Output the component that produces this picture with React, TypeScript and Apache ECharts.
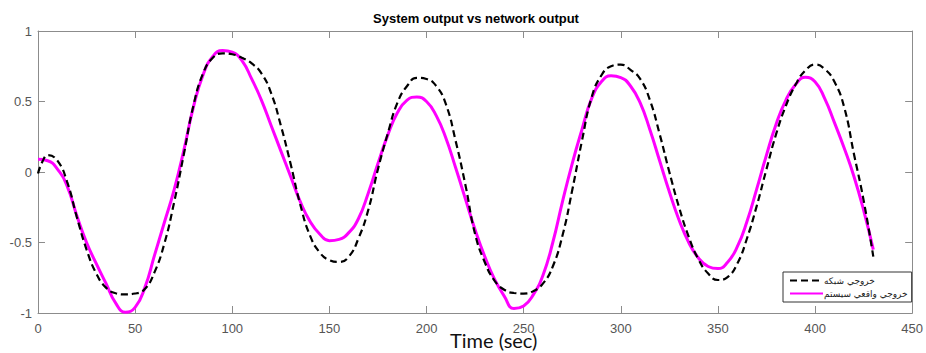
import { useEffect, useRef } from "react";
import * as echarts from "echarts";

// Real system response (solid magenta), sampled every 5 s
const sysTime = [
  0, 5, 10, 15, 20, 25, 30, 35, 40, 45, 50, 55, 60, 65, 70, 75, 80, 85, 90, 95,
  100, 105, 110, 115, 120, 125, 130, 135, 140, 145, 150, 155, 160, 165, 170, 175,
  180, 185, 190, 195, 200, 205, 210, 215, 220, 225, 230, 235, 240, 245, 250, 255,
  260, 265, 270, 275, 280, 285, 290, 295, 300, 305, 310, 315, 320, 325, 330, 335,
  340, 345, 350, 355, 360, 365, 370, 375, 380, 385, 390, 395, 400, 405, 410, 415,
  420, 425, 430,
];
const sysOutput = [
  0.09, 0.08, 0.02, -0.1, -0.31, -0.5, -0.65, -0.79, -0.93, -0.995, -0.96, -0.82,
  -0.59, -0.36, -0.13, 0.15, 0.46, 0.69, 0.82, 0.862, 0.85, 0.79, 0.66, 0.51,
  0.33, 0.15, -0.03, -0.21, -0.35, -0.44, -0.487, -0.478, -0.43, -0.33, -0.15,
  0.06, 0.26, 0.42, 0.51, 0.532, 0.5, 0.4, 0.24, 0.03, -0.19, -0.41, -0.6, -0.76,
  -0.88, -0.968, -0.95, -0.87, -0.73, -0.5, -0.21, 0.06, 0.3, 0.52, 0.64, 0.682,
  0.67, 0.61, 0.49, 0.3, 0.08, -0.14, -0.34, -0.5, -0.61, -0.67, -0.685, -0.64,
  -0.53, -0.35, -0.12, 0.12, 0.34, 0.51, 0.62, 0.672, 0.64, 0.52, 0.35, 0.17,
  -0.03, -0.27, -0.55,
];

// Network prediction (dashed black)
const netTime = [
  0, 2.5, 5, 10, 15, 20, 25, 30, 35, 40, 45, 50, 55, 60, 65, 70, 75, 80, 85, 90,
  95, 100, 105, 110, 115, 120, 125, 130, 135, 140, 145, 150, 155, 160, 165, 170,
  175, 180, 185, 190, 195, 200, 205, 210, 215, 220, 225, 230, 235, 240, 245, 250,
  255, 260, 265, 270, 275, 280, 285, 290, 295, 300, 305, 310, 315, 320, 325, 330,
  335, 340, 345, 350, 355, 360, 365, 370, 375, 380, 385, 390, 395, 400, 405, 410,
  415, 420, 425, 430,
];
const netOutput = [
  -0.01, 0.08, 0.12, 0.08, -0.07, -0.32, -0.55, -0.72, -0.82, -0.86, -0.868,
  -0.862, -0.83, -0.71, -0.51, -0.22, 0.12, 0.47, 0.7, 0.81, 0.842, 0.835, 0.81,
  0.77, 0.7, 0.56, 0.33, 0.06, -0.23, -0.45, -0.57, -0.625, -0.638, -0.6, -0.47,
  -0.27, 0.02, 0.27, 0.49, 0.61, 0.668, 0.66, 0.61, 0.48, 0.22, -0.09, -0.44,
  -0.64, -0.77, -0.835, -0.858, -0.862, -0.845, -0.79, -0.67, -0.45, -0.13, 0.22,
  0.53, 0.685, 0.75, 0.762, 0.725, 0.66, 0.51, 0.27, 0.0, -0.25, -0.46, -0.62,
  -0.72, -0.766, -0.745, -0.65, -0.47, -0.24, 0.02, 0.27, 0.47, 0.62, 0.72, 0.762,
  0.73, 0.64, 0.46, 0.13, -0.2, -0.6,
];

const seriesNames = ["خروجي شبكه", "خروجي واقعي سيستم"];
const xRange = [0, 450];
const xStep = 50;
const yRange = [-1, 1];
const yStep = 0.5;

const AXIS_GRAY = "#8c8c8c";
const LABEL_GRAY = "#555555";

function zip(xs: number[], ys: number[]) {
  return xs.map((x, i) => [x, ys[i]]);
}

export default function App() {
  const ref = useRef<HTMLDivElement>(null);

  useEffect(() => {
    if (!ref.current) return;
    const chart = echarts.init(ref.current, undefined, { renderer: "svg" });

    const baseX = {
      type: "value" as const,
      min: xRange[0],
      max: xRange[1],
      interval: xStep,
      splitLine: { show: false },
      axisLine: { show: true, onZero: false, lineStyle: { color: AXIS_GRAY, width: 1 } },
      axisTick: { show: true, inside: true, length: 7, lineStyle: { color: AXIS_GRAY } },
    };
    const baseY = {
      type: "value" as const,
      min: yRange[0],
      max: yRange[1],
      interval: yStep,
      splitLine: { show: false },
      axisLine: { show: true, onZero: false, lineStyle: { color: AXIS_GRAY, width: 1 } },
      axisTick: { show: true, inside: true, length: 7, lineStyle: { color: AXIS_GRAY } },
    };
    const labelStyle = {
      color: LABEL_GRAY,
      fontSize: 13,
      fontFamily: "Liberation Sans, Arial, sans-serif",
    };

    chart.setOption({
      animation: false,
      backgroundColor: "#ffffff",
      grid: { left: 38, right: 11, top: 31, bottom: 40, containLabel: false },
      xAxis: [
        { ...baseX, position: "bottom", axisLabel: { ...labelStyle, margin: 9 } },
        { ...baseX, position: "top", axisLabel: { show: false } },
      ],
      yAxis: [
        { ...baseY, position: "left", axisLabel: { ...labelStyle, margin: 6 } },
        { ...baseY, position: "right", axisLabel: { show: false } },
      ],
      legend: {
        orient: "vertical",
        left: 783,
        top: 272,
        padding: [4, 4, 4, 6],
        itemWidth: 33,
        itemHeight: 10,
        itemGap: 4,
        backgroundColor: "#ffffff",
        borderColor: "#333333",
        borderWidth: 1,
        borderRadius: 0,
        itemStyle: { opacity: 0 },
        textStyle: {
          fontSize: 9,
          color: "#222222",
          fontFamily: "DejaVu Sans, sans-serif",
          padding: [0, 0, 0, -4],
        },
        data: seriesNames,
      },
      graphic: [
        {
          type: "text",
          x: 476,
          y: 18,
          style: {
            text: "System output vs network output",
            fontSize: 13,
            fontWeight: "bold",
            fontFamily: "Liberation Sans, Arial, sans-serif",
            fill: "#000000",
            align: "center",
            verticalAlign: "middle",
          },
        },
        {
          type: "text",
          x: 450,
          y: 340,
          style: {
            text: "Time (sec)",
            fontSize: 20,
            lineHeight: 22,
            fontFamily: "Lato, Open Sans, sans-serif",
            fill: "#111111",
            align: "left",
            verticalAlign: "middle",
          },
        },
      ],
      series: [
        {
          name: seriesNames[0],
          type: "line",
          data: zip(netTime, netOutput),
          symbol: "none",
          smooth: 0.5,
          z: 3,
          lineStyle: { color: "#000000", width: 2.2, type: [7, 4] },
          itemStyle: { color: "#000000" },
        },
        {
          name: seriesNames[1],
          type: "line",
          data: zip(sysTime, sysOutput),
          symbol: "none",
          smooth: 0.5,
          z: 2,
          lineStyle: { color: "#ff00ff", width: 3 },
          itemStyle: { color: "#ff00ff" },
        },
      ],
    });

    return () => chart.dispose();
  }, []);

  return (
    <div
      ref={ref}
      style={{ position: "absolute", left: 0, top: 0, width: 926, height: 353 }}
    />
  );
}
